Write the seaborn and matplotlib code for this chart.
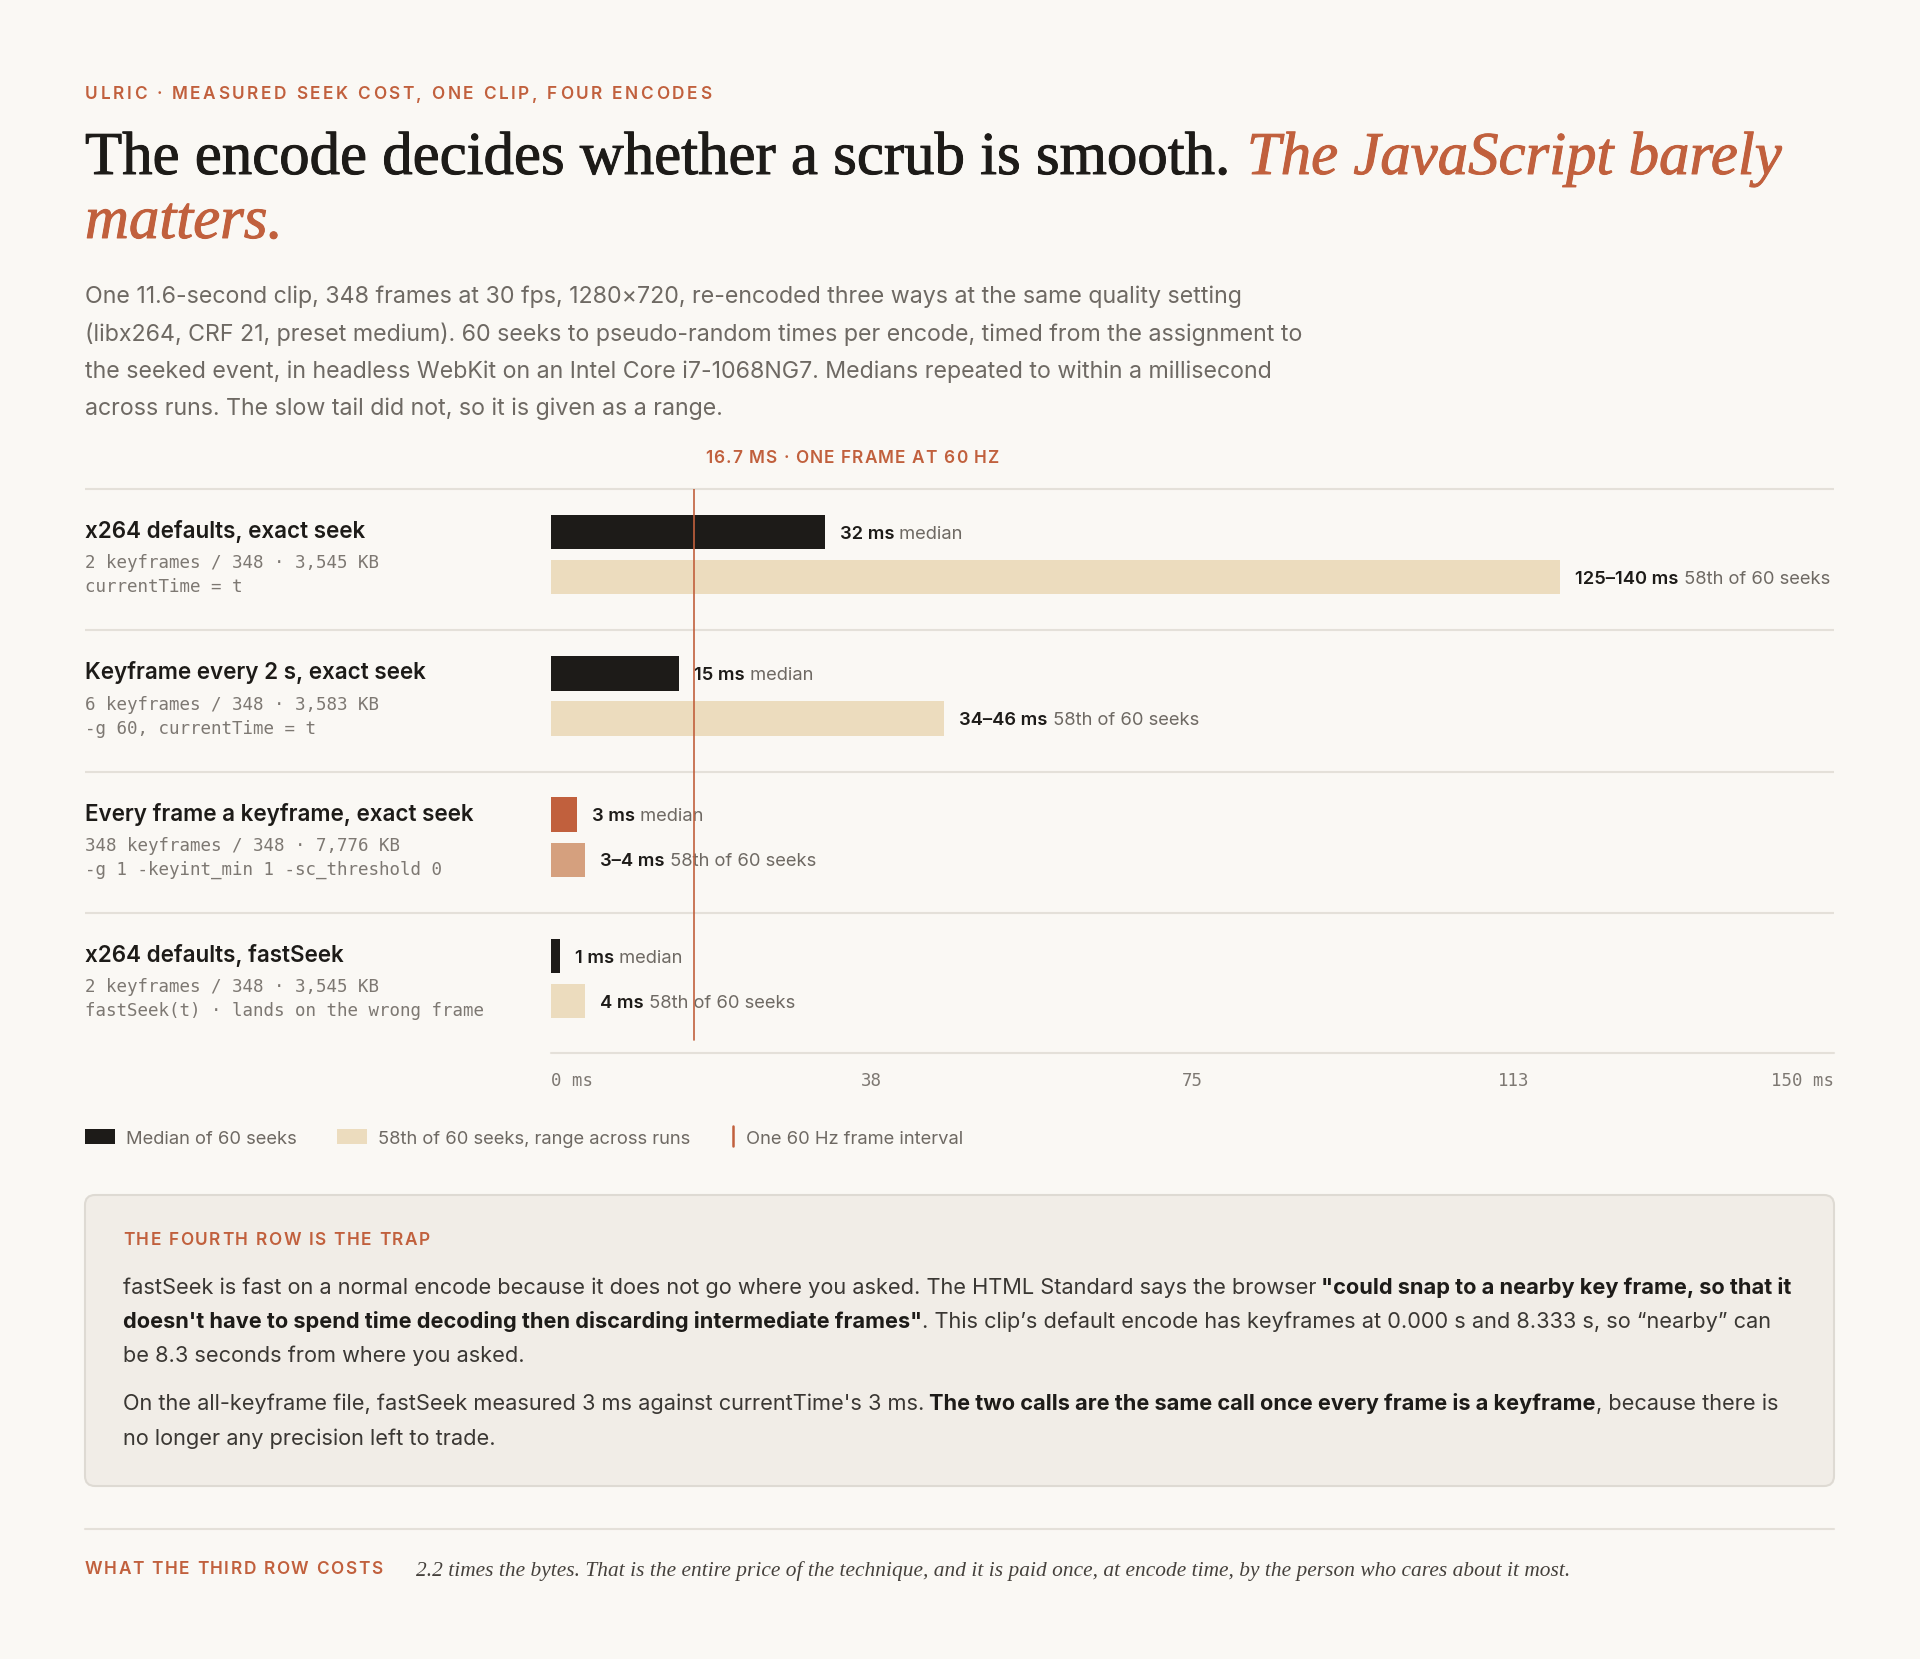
import matplotlib
matplotlib.use("Agg")
from matplotlib import pyplot as plt
from matplotlib import patheffects
from matplotlib.font_manager import FontProperties
from matplotlib.patches import FancyBboxPatch, Rectangle
import pandas as pd
import seaborn as sns

# --- data -----------------------------------------------------------------
encodes = ["x264 defaults, exact seek", "Keyframe every 2 s, exact seek",
           "Every frame a keyframe, exact seek", "x264 defaults, fastSeek"]
encode_info = ["2 keyframes / 348 · 3,545 KB", "6 keyframes / 348 · 3,583 KB",
               "348 keyframes / 348 · 7,776 KB", "2 keyframes / 348 · 3,545 KB"]
encode_call = ["currentTime = t", "-g 60, currentTime = t",
               "-g 1 -keyint_min 1 -sc_threshold 0",
               "fastSeek(t) · lands on the wrong frame"]
median_ms = [32, 15, 3, 1]
tail_low_ms = [125, 34, 3, 4]
tail_high_ms = [140, 46, 4, 4]
frame_ms = 16.7
axis_max_ms = 150
tick_ms = [0, 37.5, 75, 112.5, 150]
tick_labels = ["0 ms", "38", "75", "113", "150 ms"]
# the longest bar is cut short so its label still fits on the page
bar_room_ms = 118

kicker = "ULRIC · MEASURED SEEK COST, ONE CLIP, FOUR ENCODES"
title_plain = "The encode decides whether a scrub is smooth."
title_accent = ["The JavaScript barely", "matters."]
desc_lines = [
    "One 11.6-second clip, 348 frames at 30 fps, 1280×720, re-encoded three ways at the same quality setting",
    "(libx264, CRF 21, preset medium). 60 seeks to pseudo-random times per encode, timed from the assignment to",
    "the seeked event, in headless WebKit on an Intel Core i7-1068NG7. Medians repeated to within a millisecond",
    "across runs. The slow tail did not, so it is given as a range.",
]
frame_note = "16.7 MS · ONE FRAME AT 60 HZ"
legend_labels = ["Median of 60 seeks", "58th of 60 seeks, range across runs",
                 "One 60 Hz frame interval"]
note_title = "THE FOURTH ROW IS THE TRAP"
note_lines = [
    [("fastSeek is fast on a normal encode because it does not go where you asked. The HTML Standard says the browser", "r"),
     (" \"could snap to a nearby key frame, so that it", "b")],
    [("doesn't have to spend time decoding then discarding intermediate frames\"", "b"),
     (". This clip’s default encode has keyframes at 0.000 s and 8.333 s, so “nearby” can", "r")],
    [("be 8.3 seconds from where you asked.", "r")],
    [("On the all-keyframe file, fastSeek measured 3 ms against currentTime's 3 ms.", "r"),
     (" The two calls are the same call once every frame is a keyframe", "b"),
     (", because there is", "r")],
    [("no longer any precision left to trade.", "r")],
]
footer_label = "WHAT THE THIRD ROW COSTS"
footer_text = ("2.2 times the bytes. That is the entire price of the technique, and it is "
               "paid once, at encode time, by the person who cares about it most.")

# --- style ----------------------------------------------------------------
W, H, DPI = 1920, 1659, 100
BG = "#faf8f4"
INK = "#1d1b18"
RUST = "#c1603d"
GRAY = "#6e6963"
MONO_GRAY = "#7d7872"
RULE = "#e4e0d9"
BEIGE = "#ecdcbe"
RUST_PALE = "#d5a07e"
BOX = "#f1ede7"
BOX_EDGE = "#dedad3"
BODY = "#3a3733"

median_colors = [INK, INK, RUST, INK]
tail_colors = [BEIGE, BEIGE, RUST_PALE, BEIGE]

SANS = "Inter"
MONO = "DejaVu Sans Mono"
SERIF = "Liberation Serif"
STYLES = {
    "serif": (SERIF, "normal", "normal"),
    "serif_i": (SERIF, "normal", "italic"),
    "sans": (SANS, "normal", "normal"),
    "sans_b": (SANS, "bold", "normal"),
    "sans_sb": (SANS, "semibold", "normal"),
    "mono": (MONO, "normal", "normal"),
}

LEFT, RIGHT = 85, 1834
PLOT_L = 551
ROW_TOP = 489
ROW_H = 141.3


def font(kind, size):
    family, weight, style = STYLES[kind]
    return FontProperties(family=[family, "DejaVu Sans"], size=size,
                          weight=weight, style=style)


def advance(r, s, prop):
    def w(t):
        return r.get_text_width_height_descent(t, prop, ismath=False)[0]
    return w("x" + s + "x") - w("xx")


def fit(r, parts, target):
    # parts: (text, kind); sizes scale linearly, so measure at 10 pt
    width10 = sum(advance(r, t, font(k, 10)) for t, k in parts)
    return 10 * target / width10


def base(yc, size):
    # visual centre of a line -> baseline, in page pixels
    return yc + 0.36 * size * DPI / 72


def runs(page, r, x, yc, parts, size, **kw):
    y = base(yc, size)
    for text, kind, color in parts:
        prop = font(kind, size)
        page.text(x, y, text, fontproperties=prop, color=color,
                  ha="left", va="baseline", **kw)
        x += advance(r, text, prop)
    return x


def spaced(page, r, x, yc, s, color, width, size=12.4):
    prop = font("sans_sb", size)
    track = (width - advance(r, s, prop)) / (len(s) - 1)
    y = base(yc, size)
    for i, ch in enumerate(s):
        if ch != " ":
            page.text(x + advance(r, s[:i], prop) + i * track, y, ch,
                      fontproperties=prop, color=color, ha="left",
                      va="baseline")


def main():
    sns.set_theme(style="white")
    plt.rcParams["font.family"] = [SANS, "DejaVu Sans"]

    fig = plt.figure(figsize=(W / DPI, H / DPI), dpi=DPI, facecolor=BG)
    page = fig.add_axes([0, 0, 1, 1])
    page.set_xlim(0, W)
    page.set_ylim(H, 0)
    page.axis("off")
    r = fig.canvas.get_renderer()

    # header
    spaced(page, r, LEFT, 93, kicker, RUST, 626)
    head = [(title_plain, "serif"), (" " + title_accent[0], "serif_i")]
    tsize = fit(r, head, 1695)
    x = LEFT
    for (text, kind), color in zip(head, [INK, RUST]):
        page.text(x, 174, text, fontproperties=font(kind, tsize), color=color,
                  va="baseline",
                  path_effects=[patheffects.withStroke(linewidth=0.7, foreground=color)])
        x += advance(r, text, font(kind, tsize))
    page.text(LEFT, 238, title_accent[1], fontproperties=font("serif_i", tsize),
              color=RUST, va="baseline",
              path_effects=[patheffects.withStroke(linewidth=0.7, foreground=RUST)])

    dsize = fit(r, [(desc_lines[0], "sans")], 1163)
    for i, line in enumerate(desc_lines):
        runs(page, r, LEFT, 295 + i * 37.2, [(line, "sans", GRAY)], dsize)

    # chart frame
    plot_bottom = ROW_TOP + 4 * ROW_H
    for k in range(4):
        y = ROW_TOP + k * ROW_H
        page.plot([LEFT, RIGHT], [y, y], color=RULE, lw=1.5, solid_capstyle="butt")
    page.plot([PLOT_L, RIGHT], [plot_bottom - 1, plot_bottom - 1], color=RULE, lw=1.5)

    name_size = fit(r, [(encodes[1], "sans_sb")], 341)
    mono_size = fit(r, [(encode_call[3], "mono")], 402)
    for k in range(4):
        top = ROW_TOP + k * ROW_H
        runs(page, r, LEFT, top + 41, [(encodes[k], "sans_sb", INK)], name_size)
        runs(page, r, LEFT, top + 73, [(encode_info[k], "mono", MONO_GRAY)], mono_size)
        runs(page, r, LEFT, top + 97, [(encode_call[k], "mono", MONO_GRAY)], mono_size)

    ax = fig.add_axes([PLOT_L / W, 1 - plot_bottom / H, (RIGHT - PLOT_L) / W,
                       (plot_bottom - ROW_TOP) / H])
    ax.set_facecolor("none")
    bars = pd.DataFrame({
        "encode": encodes * 2,
        "stat": ["median"] * 4 + ["tail"] * 4,
        "ms": median_ms + [min(h, bar_room_ms) for h in tail_high_ms],
    })
    sns.barplot(data=bars, x="ms", y="encode", hue="stat", orient="h",
                palette={"median": INK, "tail": BEIGE}, saturation=1,
                width=0.64, gap=0.24, errorbar=None, legend=False, ax=ax)
    shift = 5 / ROW_H
    ax.set_xlim(0, axis_max_ms)
    ax.set_ylim(3.5 + shift, -0.5 + shift)
    ax.axis("off")
    ax.axvline(frame_ms, ymin=14 / (plot_bottom - ROW_TOP), ymax=1,
               color=RUST, lw=1.2, zorder=5)

    vsize = fit(r, [("125–140 ms", "sans_sb"), (" 58th of 60 seeks", "sans")], 256)
    for bar in ax.patches:
        cy = bar.get_y() + bar.get_height() / 2
        k = int(round(cy))
        is_median = cy < k
        bar.set_facecolor(median_colors[k] if is_median else tail_colors[k])
        bar.set_edgecolor("none")
        px, py = ax.transData.transform((bar.get_x() + bar.get_width(), cy))
        if is_median:
            parts = [(f"{median_ms[k]} ms", "sans_sb", INK), (" median", "sans", GRAY)]
        else:
            lo, hi = tail_low_ms[k], tail_high_ms[k]
            rng = f"{hi} ms" if lo == hi else f"{lo}–{hi} ms"
            parts = [(rng, "sans_sb", INK), (" 58th of 60 seeks", "sans", GRAY)]
        runs(page, r, px + 15, H - py, parts, vsize)

    fx, _ = ax.transData.transform((frame_ms, 0))
    spaced(page, r, fx + 11, 457, frame_note, RUST, 294)

    tsz = fit(r, [(tick_labels[-1], "mono")], 63)
    for v, lab in zip(tick_ms, tick_labels):
        px, _ = ax.transData.transform((v, 0))
        ha = "left" if v == 0 else ("right" if v == axis_max_ms else "center")
        page.text(px, base(1080, tsz), lab, fontproperties=font("mono", tsz),
                  color=MONO_GRAY, ha=ha, va="baseline")

    # legend
    lsize = fit(r, [(legend_labels[1], "sans")], 316)
    page.add_patch(Rectangle((LEFT, 1129), 30, 15, color=INK, lw=0))
    runs(page, r, 126, 1137, [(legend_labels[0], "sans", GRAY)], lsize)
    page.add_patch(Rectangle((337, 1129), 30, 15, color=BEIGE, lw=0))
    runs(page, r, 378, 1137, [(legend_labels[1], "sans", GRAY)], lsize)
    page.plot([733, 733], [1126, 1146], color=RUST, lw=1.8)
    runs(page, r, 746, 1137, [(legend_labels[2], "sans", GRAY)], lsize)

    # callout
    page.add_patch(FancyBboxPatch((LEFT, 1195), RIGHT - LEFT, 291,
                                  boxstyle="round,pad=0,rounding_size=10",
                                  facecolor=BOX, edgecolor=BOX_EDGE, lw=1.5))
    spaced(page, r, 123, 1239, note_title, RUST, 307)
    kinds = {"r": ("sans", BODY), "b": ("sans_b", INK)}
    nsize = fit(r, [(t, kinds[k][0]) for t, k in note_lines[0]], 1672)
    for line, yc in zip(note_lines, [1286, 1320, 1354, 1402, 1437]):
        runs(page, r, 123, yc, [(t, kinds[k][0], kinds[k][1]) for t, k in line], nsize)

    # footer
    page.plot([LEFT, RIGHT], [1529, 1529], color=RULE, lw=1.5)
    spaced(page, r, LEFT, 1568, footer_label, RUST, 297)
    fsize = fit(r, [(footer_text, "serif_i")], 1153)
    runs(page, r, 416, 1568, [(footer_text, "serif_i", "#45413c")], fsize)

    fig.savefig("out.png", dpi=DPI, facecolor=BG)


if __name__ == "__main__":
    main()
